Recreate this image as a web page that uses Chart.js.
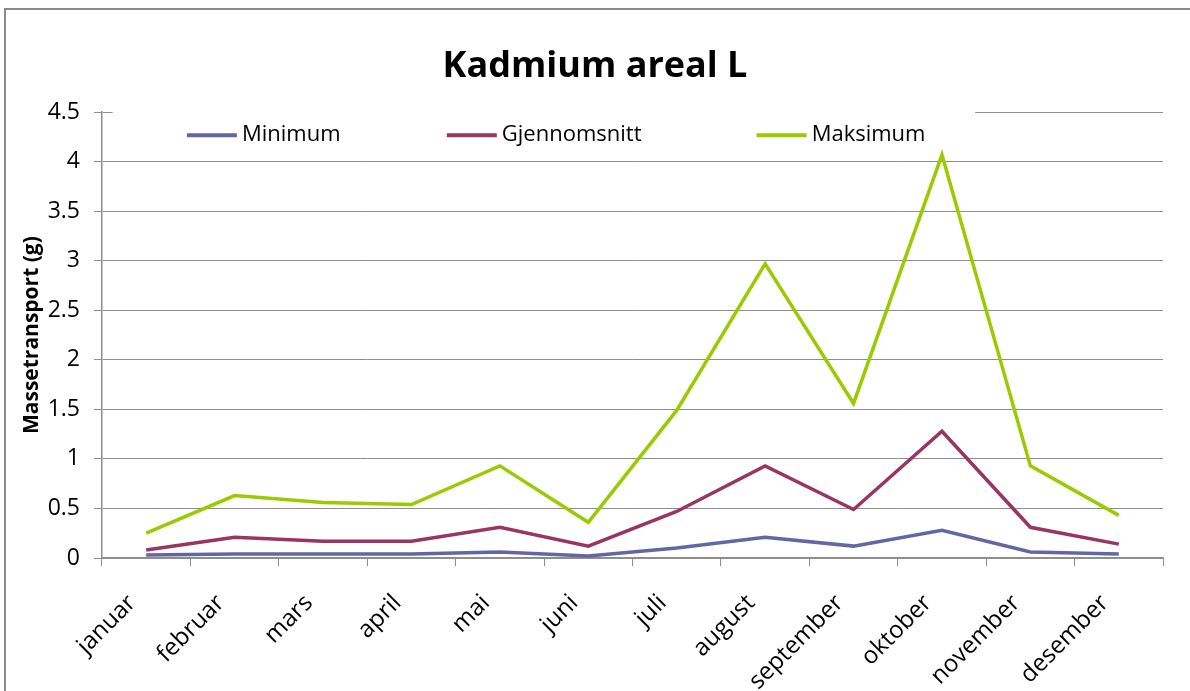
<!DOCTYPE html>
<html>
<head>
<meta charset="utf-8">
<script src="https://cdn.jsdelivr.net/npm/chart.js@4"></script>
<style>
  html, body { margin: 0; padding: 0; background: #fff; }
  #wrap { width: 1190px; height: 691px; }
</style>
</head>
<body>
<div id="wrap"><canvas id="kadmiumChart" width="1190" height="691"></canvas></div>
<script>
// data
const maaneder = ['januar', 'februar', 'mars', 'april', 'mai', 'juni', 'juli', 'august', 'september', 'oktober', 'november', 'desember'];
const minimum = [0.03, 0.04, 0.04, 0.04, 0.06, 0.02, 0.10, 0.21, 0.12, 0.28, 0.06, 0.04];
const gjennomsnitt = [0.08, 0.21, 0.17, 0.17, 0.31, 0.12, 0.47, 0.93, 0.49, 1.28, 0.31, 0.14];
const maksimum = [0.25, 0.63, 0.56, 0.54, 0.93, 0.36, 1.49, 2.97, 1.56, 4.07, 0.93, 0.43];
const yTicks = [0, 0.5, 1, 1.5, 2, 2.5, 3, 3.5, 4, 4.5];

const FONT = '"Open Sans", Lato, sans-serif';
const GRID = '#8e8e8e';

// white page + grey frame in the top left like the original picture
const frame = {
  id: 'frame',
  beforeDraw(chart) {
    const c = chart.ctx;
    c.save();
    c.fillStyle = '#fff';
    c.fillRect(0, 0, chart.width, chart.height);
    c.strokeStyle = '#8a8a8a';
    c.lineWidth = 2;
    c.beginPath();
    c.moveTo(5, chart.height);
    c.lineTo(5, 9);
    c.lineTo(chart.width, 9);
    c.stroke();
    c.restore();
  }
};

// legend sits inside the plot, on top of the 4.5 grid line
const innerLegend = {
  id: 'innerLegend',
  afterDraw(chart) {
    const c = chart.ctx;
    const a = chart.chartArea;
    const w = a.right - a.left;
    const y = a.top + 23;
    c.save();
    c.fillStyle = '#fff';
    c.fillRect(a.left + w * 0.01, a.top - 3, w * 0.813, 40);
    const starts = [0.08, 0.325, 0.617];
    c.font = '22px ' + FONT;
    c.textBaseline = 'middle';
    chart.data.datasets.forEach((ds, i) => {
      const x = a.left + w * starts[i];
      c.strokeStyle = ds.borderColor;
      c.lineWidth = 4;
      c.beginPath();
      c.moveTo(x, y);
      c.lineTo(x + 50, y);
      c.stroke();
      c.fillStyle = '#000';
      c.fillText(ds.label, x + 55, y);
    });
    c.restore();
  }
};

const ctx = document.getElementById('kadmiumChart');

const data = {
  labels: maaneder,
  datasets: [
    { label: 'Minimum', data: minimum, borderColor: '#6366a4' },
    { label: 'Gjennomsnitt', data: gjennomsnitt, borderColor: '#993560' },
    { label: 'Maksimum', data: maksimum, borderColor: '#99cc00' },
  ],
};

const config = {
  type: 'line',
  data: data,
  options: {
    responsive: false,
    animation: false,
    layout: { padding: 0 },
    elements: {
      line: { borderWidth: 3.5, tension: 0 },
      point: { radius: 0, hoverRadius: 0 },
    },
    scales: {
      x: {
        offset: true,
        grid: { offset: true, drawOnChartArea: false, tickLength: 8, color: GRID },
        border: { color: GRID, width: 1.5 },
        ticks: {
          color: '#000',
          font: { family: FONT, size: 24 },
          minRotation: 45,
          maxRotation: 45,
          autoSkip: false,
          padding: 23,
          labelOffset: -14,
        },
        afterFit(scale) { scale.height = 133; },
      },
      y: {
        min: 0,
        max: 4.5,
        afterBuildTicks(scale) { scale.ticks = yTicks.map(v => ({ value: v })); },
        grid: { color: GRID, tickLength: 8, lineWidth: 1 },
        border: { color: GRID, width: 1.5 },
        ticks: {
          color: '#000',
          font: { family: FONT, size: 23 },
          padding: 14,
          callback: v => String(v),
        },
        title: {
          display: true,
          text: 'Massetransport (g)',
          color: '#000',
          font: { family: FONT, size: 21, weight: 'bold' },
          padding: { top: 19, bottom: 0 },
        },
        afterFit(scale) { scale.width = 102; },
      },
      // empty strip on the right so the title stays centred on the page
      rightGap: {
        position: 'right',
        min: 0,
        max: 1,
        grid: { display: false },
        border: { display: false },
        ticks: { display: false },
        afterFit(scale) { scale.width = 27; },
      },
    },
    plugins: {
      legend: { display: false },
      tooltip: { enabled: false },
      title: {
        display: true,
        text: 'Kadmium areal L',
        color: '#000',
        font: { family: FONT, size: 36, weight: 'bold', lineHeight: 1.2 },
        padding: { top: 45, bottom: 24 },
      },
    },
  },
  plugins: [frame, innerLegend],
};

new Chart(ctx, config);
</script>
</body>
</html>
